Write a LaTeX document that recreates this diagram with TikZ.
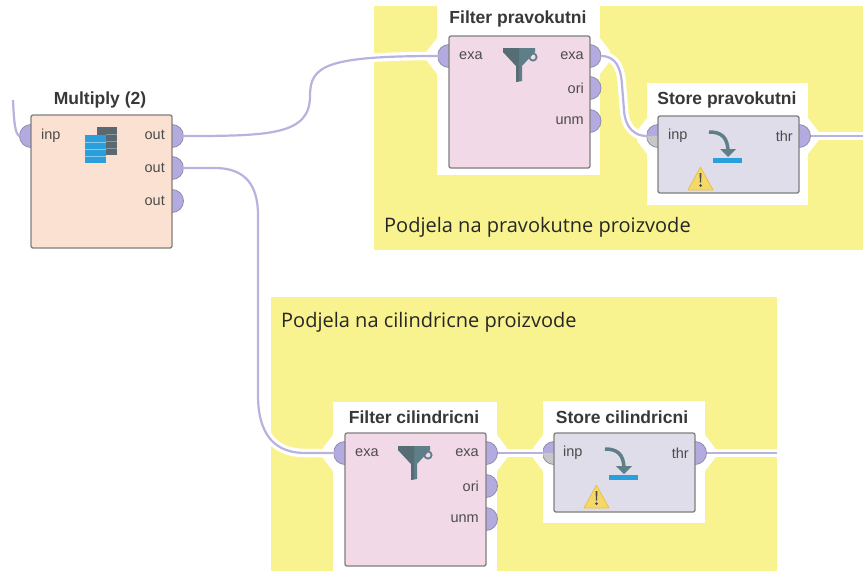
\documentclass[tikz,border=0pt]{standalone}
\usepackage{fontspec}
\setmainfont{Liberation Sans}
\newfontfamily\notefont{Open Sans}
\definecolor{noteyellow}{HTML}{F9F38F}
\definecolor{wirecol}{HTML}{B8B2DE}
\definecolor{portcol}{HTML}{B3ABE0}
\definecolor{portedge}{HTML}{8F8CA8}
\definecolor{boxedge}{HTML}{7F7F7F}
\definecolor{mulfill}{HTML}{FBE1D2}
\definecolor{filfill}{HTML}{F2D9E7}
\definecolor{stofill}{HTML}{E0DDEB}
\definecolor{icongrey}{HTML}{5F7F88}
\definecolor{icondark}{HTML}{5A6870}
\definecolor{iconblue}{HTML}{2A9FDC}
\definecolor{warnfill}{HTML}{F5D868}
\definecolor{warnedge}{HTML}{E8C24A}
\tikzset{
  opbox/.style={draw=boxedge,line width=1.3pt,rounded corners=2pt,inner sep=0pt,outer sep=0pt},
  optitle/.style={font=\bfseries\fontsize{17.5}{20}\selectfont,text=black!78,inner sep=0pt},
  portlabel/.style={font=\fontsize{14.5}{16}\selectfont,text=black!70,inner sep=0pt},
  portnode/.style={circle,draw=portedge,fill=portcol,line width=0.8pt,minimum size=23pt,inner sep=0pt,outer sep=0pt},
  portgrey/.style={portnode,path picture={\fill[black!22] (path picture bounding box.west) rectangle (path picture bounding box.south east);}},
  wire/.style={draw=wirecol,line width=2.2pt},
  wirehalo/.style={draw=white,line width=8.5pt},
  note/.style={font=\notefont\fontsize{20}{24}\selectfont,text=black!85,anchor=west,inner sep=0pt},
  halo/.style={fill=white,draw=none}
}
\newcommand\warnsign[2]{%
  \begin{scope}[shift={(#1,#2)}]
    \fill[fill=warnfill,draw=warnedge,line width=0.8pt,line join=round] (12.5,0) -- (25,23) -- (0,23) -- cycle;
    \fill[black!70] (11.5,6) -- (13.5,6) -- (13,15.5) -- (12,15.5) -- cycle;
    \fill[black!70] (12.5,18.5) circle (1.5);
  \end{scope}}
\newcommand\storeicon[2]{%
  \begin{scope}[shift={(#1,#2)}]
    \draw[icongrey,line width=3.5pt] (709,132) .. controls (720,132) and (728,136) .. (728,152);
    \fill[icongrey] (720,149) -- (736,149) -- (728,157) -- cycle;
    \fill[iconblue] (713,158) rectangle (742,163);
  \end{scope}}
\newcommand\funnelicon[2]{%
  \begin{scope}[shift={(#1,#2)}]
    \draw[icongrey,line width=1.8pt] (533,57) circle (3.6);
    \fill[icongrey] (503,48) -- (535,48) -- (535,52) -- (522,66) -- (522,81) -- (516,82) -- (516,66) -- (503,52) -- cycle;
    \fill[icondark!85!black,opacity=.45] (503,48) -- (519,48) -- (519,81.5) -- (516,82) -- (516,66) -- (503,52) -- cycle;
  \end{scope}}
\begin{document}
\begin{tikzpicture}[x=1pt,y=-1pt]
\useasboundingbox (0,0) rectangle (863,571);
\fill[white] (0,0) rectangle (863,571);
% note areas
\fill[noteyellow] (374,6) rectangle (863,250);
\fill[noteyellow] (271,297) rectangle (777,571);
% white surrounds of the operators
\fill[halo] (437,6) rectangle (600,175);
\fill[halo] (647,83) rectangle (808,205);
\fill[halo] (333,402) rectangle (497,571);
\fill[halo] (543,401) rectangle (705,523);
\fill[halo] (437,38) -- (427,51) -- (427,61) -- (437,74) -- cycle;
\fill[halo] (600,38) -- (610,51) -- (610,61) -- (600,74) -- cycle;
\fill[halo] (647,118) -- (637,131) -- (637,141) -- (647,154) -- cycle;
\fill[halo] (808,118) -- (818,131) -- (818,141) -- (808,154) -- cycle;
\fill[halo] (333,435) -- (323,448) -- (323,458) -- (333,471) -- cycle;
\fill[halo] (497,435) -- (507,448) -- (507,458) -- (497,471) -- cycle;
\fill[halo] (543,435) -- (533,448) -- (533,458) -- (543,471) -- cycle;
\fill[halo] (705,435) -- (715,448) -- (715,458) -- (705,471) -- cycle;
% free ends
\coordinate (startin) at (13,100);
\coordinate (endprav) at (863,136);
\coordinate (endcil) at (777,453);
\coordinate (b1) at (310,96);
\coordinate (b2) at (258,215);
\coordinate (b3) at (258,395);
\coordinate (b4) at (622,85);
% ports
\node[portnode] (mi) at (31,136) {};
\node[portnode] (mo1) at (172,136) {};
\node[portnode] (mo2) at (172,168) {};
\node[portnode] (mo3) at (172,201) {};
\node[portnode] (fpi) at (449,56) {};
\node[portnode] (fpo1) at (589.5,56) {};
\node[portnode] (fpo2) at (589.5,88) {};
\node[portnode] (fpo3) at (589.5,121) {};
\node[portgrey] (spi) at (658,136) {};
\node[portnode] (spo) at (799,136) {};
\node[portnode] (fci) at (345,453) {};
\node[portnode] (fco1) at (486,453) {};
\node[portnode] (fco2) at (486,486) {};
\node[portnode] (fco3) at (486,519) {};
\node[portgrey] (sci) at (554,453) {};
\node[portnode] (sco) at (695,453) {};
% wires: white surround first, then the line
\foreach \st in {wirehalo,wire}{
  \draw[\st] (mo1.east) .. controls (270,136) and (310,135) .. (b1) .. controls (310,66) and (325,56) .. (fpi.west);
  \draw[\st] (mo2.east) -- (215,168) .. controls (245,168) and (258,185) .. (b2) -- (b3) .. controls (258,435) and (275,453) .. (305,453) -- (fci.west);
  \draw[\st] (fpo1.east) .. controls (616,56) and (621,68) .. (b4) -- (624,110) .. controls (625,128) and (635,136) .. (spi.west);
  \draw[\st] (spo.east) -- (endprav);
  \draw[\st] (fco1.east) -- (sci.west);
  \draw[\st] (sco.east) -- (endcil);
}
\draw[wire] (startin) .. controls (14,122) and (15,134) .. (mi.west);
% operators
\node[opbox,fill=mulfill,minimum width=141pt,minimum height=133pt] (mul) at (101.5,181.5) {};
\node[opbox,fill=filfill,minimum width=141pt,minimum height=132pt] (fp) at (519.5,102) {};
\node[opbox,fill=stofill,minimum width=141pt,minimum height=77pt] (sp) at (728.5,154.5) {};
\node[opbox,fill=filfill,minimum width=141pt,minimum height=133pt] (fc) at (415.5,499.5) {};
\node[opbox,fill=stofill,minimum width=141pt,minimum height=79pt] (sc) at (624.5,472.5) {};
% titles
\node[optitle] (tm) at (100,100) {Multiply (2)};
\node[optitle] (tfp) at (518,19) {Filter pravokutni};
\node[optitle] (tsp) at (727,100) {Store pravokutni};
\node[optitle] (tfc) at (414,417) {Filter cilindricni};
\node[optitle] (tsc) at (622,417) {Store cilindricni};
% port labels
\node[portlabel,anchor=west] (lmi) at (41,136) {inp};
\node[portlabel,anchor=east] (lmo1) at (165,135) {out};
\node[portlabel,anchor=east] (lmo2) at (165,168) {out};
\node[portlabel,anchor=east] (lmo3) at (165,201) {out};
\node[portlabel,anchor=west] (lfpi) at (459,55.5) {exa};
\node[portlabel,anchor=east] (lfpo1) at (584,55.5) {exa};
\node[portlabel,anchor=east] (lfpo2) at (584,88) {ori};
\node[portlabel,anchor=east] (lfpo3) at (584,121) {unm};
\node[portlabel,anchor=west] (lspi) at (668,136) {inp};
\node[portlabel,anchor=east] (lspo) at (793,136) {thr};
\node[portlabel,anchor=west] (lfci) at (355,453) {exa};
\node[portlabel,anchor=east] (lfco1) at (479,453) {exa};
\node[portlabel,anchor=east] (lfco2) at (479,486) {ori};
\node[portlabel,anchor=east] (lfco3) at (479,519) {unm};
\node[portlabel,anchor=west] (lsci) at (563,453) {inp};
\node[portlabel,anchor=east] (lsco) at (689,453) {thr};
% notes
\node[note] (np) at (384,227) {Podjela na pravokutne proizvode};
\node[note] (nc) at (281,322) {Podjela na cilindricne proizvode};
% icons
\fill[icondark] (97,127) rectangle (117,155);
\fill[iconblue] (85,135) rectangle (106,163);
\foreach \ly in {142,149,156}{\draw[white,opacity=.45,line width=.7pt] (85,\ly) -- (106,\ly);}
\foreach \ly in {134,141,148}{\draw[white,opacity=.3,line width=.7pt] (106,\ly) -- (117,\ly);}
\funnelicon{0}{0}
\funnelicon{-105}{398}
\storeicon{0}{0}
\storeicon{-104}{317}
\warnsign{688}{167}
\warnsign{584}{485}
\end{tikzpicture}
\end{document}
